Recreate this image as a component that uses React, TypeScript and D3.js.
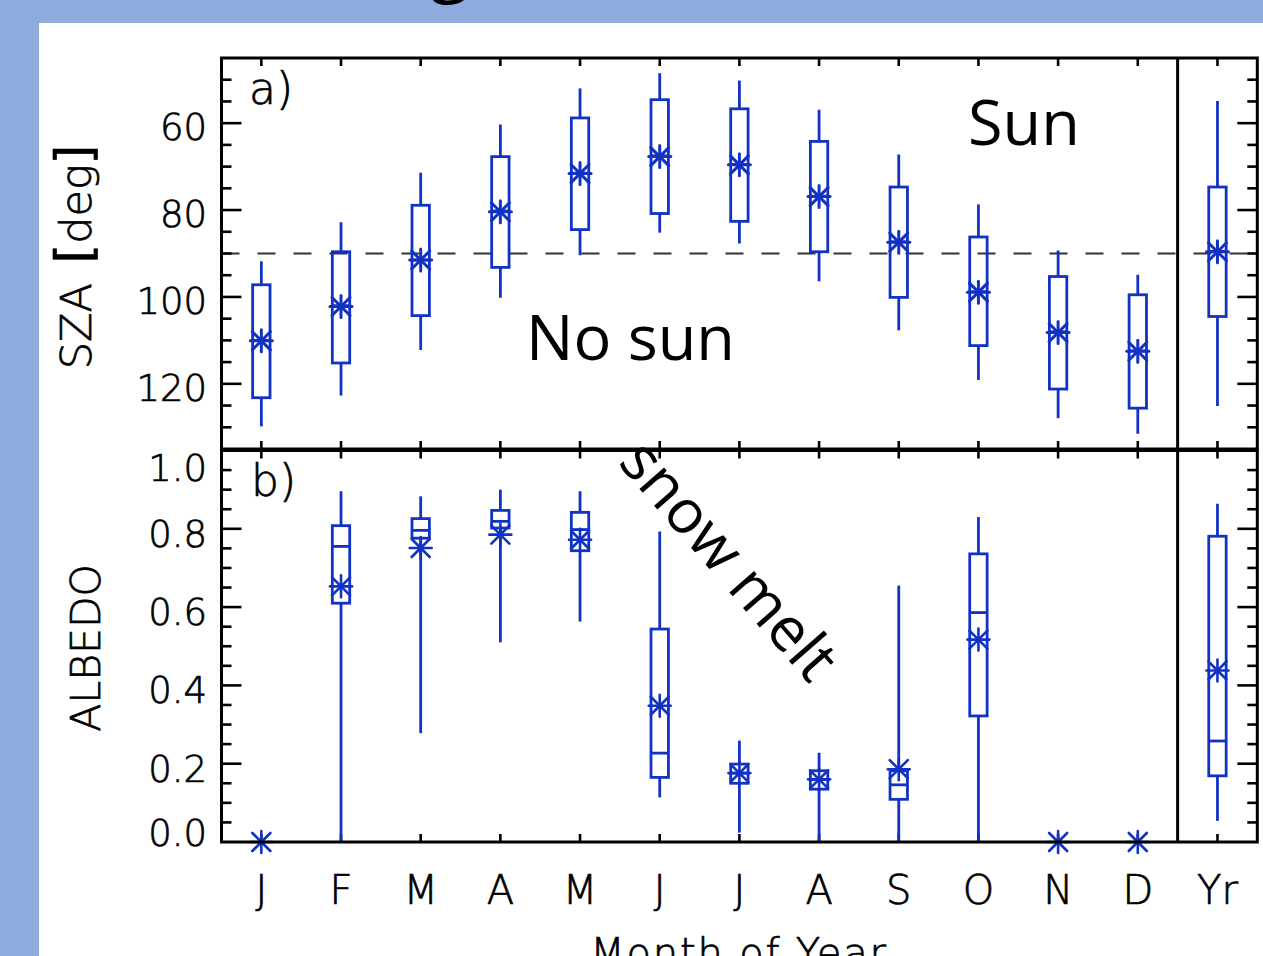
import * as d3 from "d3";

// month categories (Yr = whole-year box)
const months = ["J", "F", "M", "A", "M", "J", "J", "A", "S", "O", "N", "D", "Yr"];

// panel a) solar zenith angle [deg]
const szaMin = [91.8, 82.8, 71.4, 60.3, 52.0, 48.5, 50.2, 56.9, 67.2, 78.7, 89.3, 94.9, 54.9];
const szaQ1 = [97.2, 89.6, 78.9, 67.7, 58.8, 54.6, 56.7, 64.2, 74.7, 86.2, 95.3, 99.5, 74.7];
const szaMedian = [110.0, 102.0, 91.5, 80.2, 71.5, 67.5, 69.5, 76.8, 87.3, 98.8, 108.0, 112.4, 89.5];
const szaQ3 = [123.2, 115.2, 104.3, 93.2, 84.5, 80.8, 82.6, 89.6, 100.1, 111.2, 121.2, 125.6, 104.5];
const szaMax = [129.8, 122.7, 112.2, 100.2, 90.4, 85.2, 87.7, 96.4, 107.7, 119.1, 127.9, 131.5, 125.1];
const szaMean = [110.1, 102.2, 91.5, 80.4, 71.6, 67.7, 69.6, 76.9, 87.4, 98.9, 108.2, 112.5, 89.6];

// panel b) albedo (null = no box for that month)
const albMin = [null, 0.0, 0.278, 0.51, 0.563, 0.114, 0.024, 0.0, 0.0, 0.0, null, null, 0.054];
const albQ1 = [null, 0.61, 0.776, 0.802, 0.744, 0.165, 0.15, 0.135, 0.109, 0.322, null, null, 0.169];
const albMedian = [null, 0.755, 0.796, 0.819, 0.798, 0.227, 0.176, 0.16, 0.146, 0.586, null, null, 0.258];
const albQ3 = [null, 0.808, 0.826, 0.847, 0.842, 0.544, 0.199, 0.182, 0.182, 0.736, null, null, 0.781];
const albMax = [null, 0.896, 0.883, 0.9, 0.896, 0.793, 0.259, 0.228, 0.655, 0.83, null, null, 0.864];
const albMean = [0.0, 0.653, 0.751, 0.785, 0.772, 0.348, 0.176, 0.16, 0.186, 0.517, 0.0, 0.0, 0.438];

const szaLabels = [60, 80, 100, 120];
const albLabels = [0.0, 0.2, 0.4, 0.6, 0.8, 1.0];

const BLUE = "#1232c4";
const AXIS_FONT = "'DejaVu Sans', sans-serif";
const NOTE_FONT = "'Open Sans', sans-serif";

const left = 221.5;
const right = 1257.3;
const aTop = 58;
const aBot = 449;
const bTop = 450.5;
const bBot = 842;

const x = d3.scaleLinear().domain([-0.5, 12.5]).range([left, right]);
const ya = d3.scaleLinear().domain([45, 135]).range([aTop, aBot]);
const yb = d3.scaleLinear().domain([0, 1]).range([bBot, bTop]);

function Star({ cx, cy, r = 11, w = 2.6 }: { cx: number; cy: number; r?: number; w?: number }) {
  const d = r * 0.82;
  return (
    <g stroke={BLUE} strokeWidth={w} strokeLinecap="round">
      <line x1={cx} y1={cy - r} x2={cx} y2={cy + r} />
      <line x1={cx - r} y1={cy} x2={cx + r} y2={cy} />
      <line x1={cx - d} y1={cy - d} x2={cx + d} y2={cy + d} />
      <line x1={cx - d} y1={cy + d} x2={cx + d} y2={cy - d} />
    </g>
  );
}

function Boxes({
  y,
  lo,
  q1,
  med,
  q3,
  hi,
  mean,
  starW,
}: {
  y: d3.ScaleLinear<number, number>;
  lo: (number | null)[];
  q1: (number | null)[];
  med: (number | null)[];
  q3: (number | null)[];
  hi: (number | null)[];
  mean: number[];
  starW: number;
}) {
  const hw = 8.7;
  return (
    <g>
      {months.map((_, i) => {
        const cx = x(i);
        const hasBox = q1[i] != null;
        return (
          <g key={i}>
            {hasBox && (
              <g stroke={BLUE} strokeWidth={2.8} fill="none">
                <line x1={cx} x2={cx} y1={y(lo[i] as number)} y2={y(q1[i] as number)} />
                <line x1={cx} x2={cx} y1={y(q3[i] as number)} y2={y(hi[i] as number)} />
                <rect
                  x={cx - hw}
                  width={hw * 2}
                  y={Math.min(y(q1[i] as number), y(q3[i] as number))}
                  height={Math.abs(y(q3[i] as number) - y(q1[i] as number))}
                />
                <line x1={cx - hw} x2={cx + hw} y1={y(med[i] as number)} y2={y(med[i] as number)} />
              </g>
            )}
            <Star cx={cx} cy={y(mean[i])} w={starW} />
          </g>
        );
      })}
    </g>
  );
}

function YTicks({ y, values, major, top, bot }: { y: d3.ScaleLinear<number, number>; values: number[]; major: (v: number) => boolean; top: number; bot: number }) {
  return (
    <g stroke="#000" strokeWidth={2.6}>
      {values.map((v, i) => {
        const yy = y(v);
        if (yy <= top + 1 || yy >= bot - 1) return null;
        const len = major(v) ? 20 : 10;
        return (
          <g key={i}>
            <line x1={left} x2={left + len} y1={yy} y2={yy} />
            <line x1={right} x2={right - len} y1={yy} y2={yy} />
          </g>
        );
      })}
    </g>
  );
}

function XTicks({ top, bot }: { top: number; bot: number }) {
  return (
    <g stroke="#000" strokeWidth={2.6}>
      {months.map((_, i) => (
        <g key={i}>
          <line x1={x(i)} x2={x(i)} y1={top} y2={top + 8} />
          <line x1={x(i)} x2={x(i)} y1={bot} y2={bot - 8} />
        </g>
      ))}
    </g>
  );
}

export default function App() {
  const szaMinor = d3.range(50, 135, 5);
  const albMinor = d3.range(1, 20).map((k) => k * 0.05);
  const albLabelOffset = (v: number) => (v === 1 ? 30 : v === 0 ? 4 : 18);

  return (
    <svg
      width={1263}
      height={956}
      style={{ position: "absolute", left: 0, top: 0 }}
      fontFamily={AXIS_FONT}
    >
      <rect x={0} y={0} width={1263} height={956} fill="#8faadc" />
      <rect x={39} y={23} width={1224} height={933} fill="#ffffff" />
      {/* cut-off slide title */}
      <text x={430} y={-12} fontFamily={NOTE_FONT} fontSize={72} fill="#000">
        g
      </text>

      {/* axis texts: thin IDL-like lettering */}
      <g fontWeight={200} fill="#000" stroke="#000" strokeWidth={0.7}>
        {szaLabels.map((v) => (
          <text key={v} x={207} y={ya(v) + 17} textAnchor="end" fontSize={37}>
            {v}
          </text>
        ))}
        <text x={249} y={104} fontSize={44}>
          a)
        </text>
        <text transform={`translate(91, 257) rotate(-90)`} textAnchor="middle" fontSize={43}>
          SZA{" "}
          <tspan dx={6} fontWeight={400} fontSize={50}>[</tspan>deg<tspan fontWeight={400} fontSize={50}>]</tspan>
        </text>
        {albLabels.map((v) => (
          <text key={v} x={207} y={yb(v) + albLabelOffset(v)} textAnchor="end" fontSize={37}>
            {v.toFixed(1)}
          </text>
        ))}
        <text x={251} y={496} fontSize={44}>
          b)
        </text>
        <text transform={`translate(100, 648) rotate(-90)`} textAnchor="middle" fontSize={41}>
          ALBEDO
        </text>
        {months.map((m, i) => (
          <text key={i} x={x(i)} y={904} textAnchor="middle" fontSize={40}>
            {m}
          </text>
        ))}
        <text x={739} y={967} textAnchor="middle" fontSize={40} letterSpacing={1.8}>
          Month of Year
        </text>
      </g>

      {/* panel a */}
      <line x1={left} x2={right} y1={ya(90)} y2={ya(90)} stroke="#333" strokeWidth={2} strokeDasharray="18 18" />
      <YTicks y={ya} values={szaMinor} major={(v) => v % 20 === 0} top={aTop} bot={aBot} />
      <XTicks top={aTop} bot={aBot} />
      <Boxes y={ya} lo={szaMin} q1={szaQ1} med={szaMedian} q3={szaQ3} hi={szaMax} mean={szaMean} starW={3} />

      {/* panel b */}
      <YTicks y={yb} values={albMinor} major={(v) => Math.abs(v * 5 - Math.round(v * 5)) < 1e-6} top={bTop} bot={bBot} />
      <XTicks top={bTop} bot={bBot} />
      <Boxes y={yb} lo={albMin} q1={albQ1} med={albMedian} q3={albQ3} hi={albMax} mean={albMean} starW={2.6} />

      {/* frames */}
      <g fill="none" stroke="#000" strokeWidth={3}>
        <rect x={left} y={aTop} width={right - left} height={aBot - aTop} />
        <rect x={left} y={bTop} width={right - left} height={bBot - bTop} />
        <line x1={x(11.5)} x2={x(11.5)} y1={aTop} y2={bBot} />
      </g>

      {/* annotations */}
      <g fontFamily={NOTE_FONT} fontSize={63} fill="#000">
        <text x={968} y={145}>
          Sun
        </text>
        <text x={526} y={360}>
          No sun
        </text>
        <text transform="translate(617, 463) rotate(49)" fontSize={61}>
          snow melt
        </text>
      </g>
    </svg>
  );
}
